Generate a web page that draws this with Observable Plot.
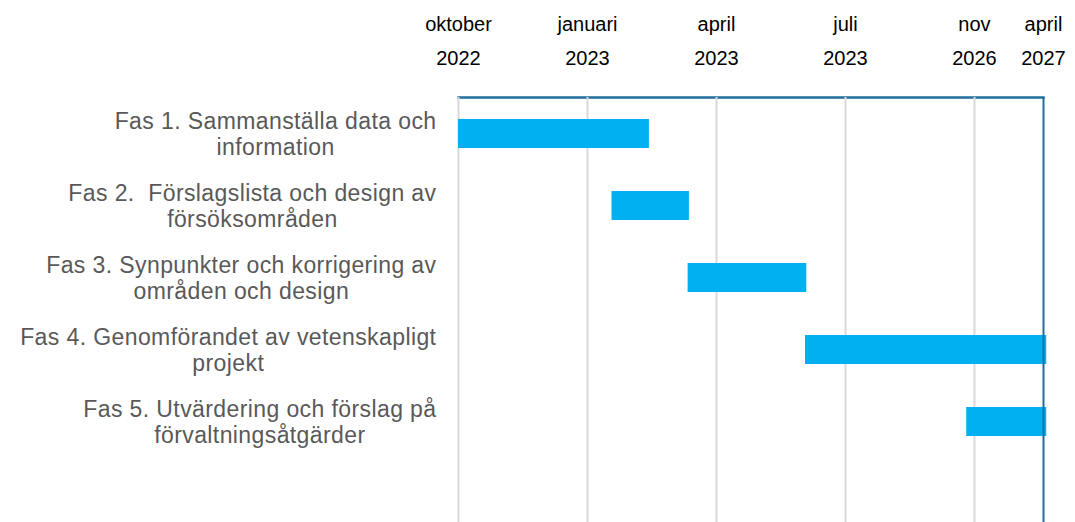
<!DOCTYPE html>
<html>
<head>
<meta charset="utf-8">
<script src="https://cdn.jsdelivr.net/npm/d3@7"></script>
<script src="https://cdn.jsdelivr.net/npm/@observablehq/plot@0.6"></script>
<style>
  html, body { margin: 0; padding: 0; background: #ffffff; }
  svg text tspan { white-space: pre; }
  g[aria-label="y-axis tick label"] text { letter-spacing: 0.4px; }
</style>
</head>
<body>
<div id="chart"></div>
<script>
// Phases (y categories)
const phases = [
  "Fas 1. Sammanställa data och\ninformation",
  "Fas 2.  Förslagslista och design av\nförsöksområden",
  "Fas 3. Synpunkter och korrigering av\nområden och design",
  "Fas 4. Genomförandet av vetenskapligt\nprojekt",
  "Fas 5. Utvärdering och förslag på\nförvaltningsåtgärder"
];
// Start / end, in axis units (one unit per labelled period from "oktober 2022")
const starts = [0, 1.19, 1.78, 2.69, 3.94];
const ends   = [1.48, 1.79, 2.70, 4.56, 4.56];
// Axis ticks
const tickPositions = [0, 1, 2, 3, 4, 4.535];
const tickLabels = ["oktober\n2022", "januari\n2023", "april\n2023", "juli\n2023", "nov\n2026", "april\n2027"];

const data = phases.map((p, i) => ({phase: p, start: starts[i], end: ends[i]}));
const xMax = tickPositions[tickPositions.length - 1];

const chart = Plot.plot({
  width: 1075,
  height: 522,
  marginLeft: 458,
  marginRight: 32,
  marginTop: 97,
  marginBottom: 0,
  style: {fontFamily: "'Liberation Sans', Arial, sans-serif", background: "#ffffff", overflow: "visible"},
  x: {domain: [0, xMax]},
  y: {domain: phases, range: [97, 457], paddingInner: 0.6, paddingOuter: 0.3},
  marks: [
    Plot.frame({anchor: "top", stroke: "#1f6e9b", strokeWidth: 2.5}),
    Plot.ruleX(tickPositions.slice(0, 5), {stroke: "#d9d9d9", strokeWidth: 2}),
    Plot.barX(data, {x1: "start", x2: "end", y: "phase", fill: "#00b0f0"}),
    Plot.ruleX([xMax], {stroke: "#1f6e9b", strokeWidth: 2}),
    Plot.axisX(tickPositions, {
      anchor: "top", tickSize: 0, tickPadding: 33, label: null,
      tickFormat: (d) => tickLabels[tickPositions.indexOf(d)],
      fontSize: 20, fill: "#000000", lineHeight: 1.7
    }),
    Plot.axisY({anchor: "left", tickSize: 0, tickPadding: 22, label: null, fontSize: 23, fill: "#595959", lineHeight: 1.13})
  ]
});

document.getElementById("chart").appendChild(chart);

// Centre the lines of each multi-line category label, keeping the widest line right-aligned
chart.querySelectorAll('g[aria-label="y-axis tick label"] text').forEach((t) => {
  const w = t.getBBox().width;
  t.setAttribute("text-anchor", "middle");
  t.querySelectorAll("tspan").forEach((s) => s.setAttribute("x", -w / 2));
});
</script>
</body>
</html>
